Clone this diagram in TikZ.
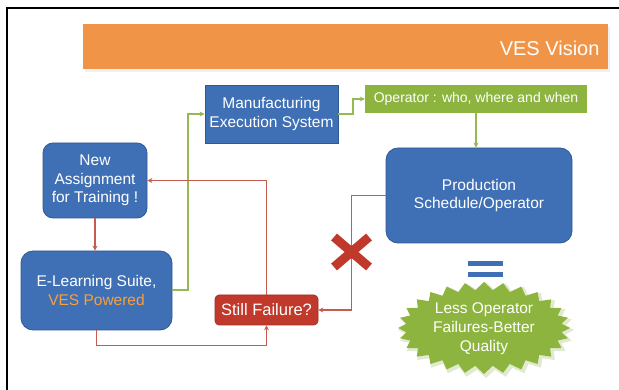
\documentclass[tikz,border=0pt]{standalone}
\usepackage{fontspec}
\setmainfont{Liberation Sans}
\usepackage{tikz}
\usetikzlibrary{arrows.meta}

\definecolor{vesblue}{RGB}{63,112,181}
\definecolor{vesblueline}{RGB}{48,88,148}
\definecolor{vesgreen}{RGB}{141,180,62}
\definecolor{vesorange}{RGB}{240,149,72}
\definecolor{vesred}{RGB}{192,57,43}
\definecolor{redline}{RGB}{196,92,80}
\definecolor{greenline}{RGB}{150,186,82}
\definecolor{txtorange}{RGB}{246,160,62}

\tikzset{
  bluebox/.style={fill=vesblue, draw=vesblueline, line width=0.8pt, text=white,
    align=center, inner sep=0pt, font=\fontsize{15.5}{18.5}\selectfont},
  greenbox/.style={fill=vesgreen, text=white, align=center, inner sep=0pt,
    font=\fontsize{14}{18}\selectfont},
  redbox/.style={fill=vesred, draw=vesred!80!black, line width=0.6pt, text=white,
    rounded corners=4pt, inner sep=0pt, font=\fontsize{16.5}{19}\selectfont},
  redarrow/.style={draw=redline, line width=1.7pt, -{Stealth[length=5pt,width=5pt]}},
  greenarrow/.style={draw=greenline, line width=2pt, -{Stealth[length=5pt,width=5pt]}},
}

\begin{document}
\begin{tikzpicture}[x=1pt,y=-1pt]
  \useasboundingbox (0,0) rectangle (619,390);
  % frame
  \draw[line width=1.2pt] (7,390) -- (7,8) -- (619,8);
  % title bar
  \fill[black!6] (85,27) rectangle (610,72);
  \node[fill=vesorange, minimum width=525pt, minimum height=45pt, inner sep=0pt] (title) at (345.5,46.5) {};
  \node[anchor=east, text=white, font=\fontsize{20}{24}\selectfont] (titletext) at (603,48) {VES Vision};

  % boxes
  \node[bluebox, minimum width=133pt, minimum height=58pt] (mes) at (271.5,114) {Manufacturing\\Execution System};
  \node[greenbox, minimum width=222pt, minimum height=28pt] (oper) at (476,99) {Operator : who, where and when};
  \node[bluebox, rounded corners=12pt, minimum width=186pt, minimum height=95pt] (prod) at (479,195.5) {Production\\Schedule/Operator};
  \node[bluebox, rounded corners=10pt, minimum width=104pt, minimum height=75pt] (newa) at (95,180.5) {New\\Assignment\\for Training !};
  \node[bluebox, rounded corners=12pt, minimum width=151pt, minimum height=79pt] (elearn) at (96.5,290.5) {E-Learning Suite,\\\textcolor{txtorange}{VES Powered}};
  \node[redbox, minimum width=103pt, minimum height=30pt] (still) at (266.5,310) {Still Failure?};

  % connectors
  \draw[greenarrow] (elearn.east) -- ++(16,0) |- (mes.west);
  \draw[greenarrow] (mes.east) -- ++(15,0) |- (oper.west);
  \draw[greenarrow] (oper.south) -- (oper.south |- prod.north);
  \draw[redarrow] (prod.west) -- ++(-34,0) |- (still.east);
  \draw[redarrow] (still.north) |- (newa.east);
  \draw[redarrow] (newa.south) -- (newa.south |- elearn.north);
  \draw[redarrow] (elearn.south) -- ++(0,15) -| (still.south);

  % cross on the failure path
  \draw[vesred, line width=9pt] (334,237) -- (369,267) (334,267) -- (369,237);

  % equals sign
  \fill[vesblue] (468,261) rectangle (503,266);
  \fill[vesblue] (468,272) rectangle (503,277);

  % starburst
  \fill[vesgreen!95!black, opacity=0.25] plot[samples=57, domain=0:360, variable=\t]
    ({486+(84+4*cos(28*\t))*cos(\t)}, {330+(44+4*cos(28*\t))*sin(\t)}) -- cycle;
  \fill[vesgreen] plot[samples=57, domain=0:360, variable=\t]
    ({484+(82+4*cos(28*\t))*cos(\t)}, {328+(42+4*cos(28*\t))*sin(\t)}) -- cycle;
  \node[text=white, align=center, font=\fontsize{15.5}{19}\selectfont] (burst) at (484,329) {Less Operator\\Failures-Better\\Quality};
\end{tikzpicture}
\end{document}
